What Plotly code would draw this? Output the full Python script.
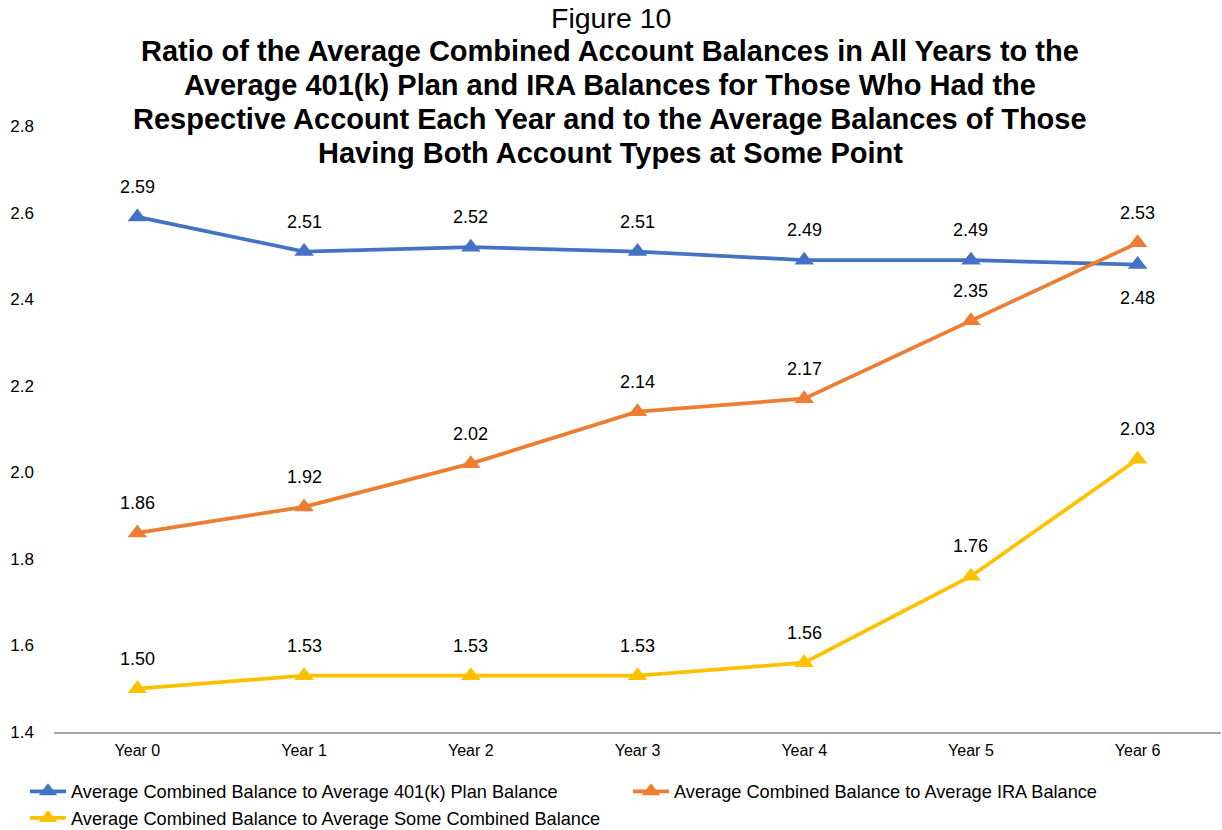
import plotly.graph_objects as go

years = ["Year 0", "Year 1", "Year 2", "Year 3", "Year 4", "Year 5", "Year 6"]
ratio_401k = [2.59, 2.51, 2.52, 2.51, 2.49, 2.49, 2.48]
ratio_ira = [1.86, 1.92, 2.02, 2.14, 2.17, 2.35, 2.53]
ratio_some = [1.50, 1.53, 1.53, 1.53, 1.56, 1.76, 2.03]

series_names = [
    "Average Combined Balance to Average 401(k) Plan Balance",
    "Average Combined Balance to Average IRA Balance",
    "Average Combined Balance to Average Some Combined Balance",
]
series_colors = ["#4472C4", "#ED7D31", "#FFC000"]
series_values = [ratio_401k, ratio_ira, ratio_some]
series_legends = ["legend", "legend2", "legend"]

title_lines = [
    "Ratio of the Average Combined Account Balances in All Years to the",
    "Average 401(k) Plan and IRA Balances for Those Who Had the",
    "Respective Account Each Year and to the Average Balances of Those",
    "Having Both Account Types at Some Point",
]

FONT = "Liberation Sans, Arial, sans-serif"
W, H = 1222, 830
M_L, M_R, M_T, M_B = 54, 1, 126, 98
PLOT_W, PLOT_H = W - M_L - M_R, H - M_T - M_B


def paper_x(px):
    return (px - M_L) / PLOT_W


def paper_y(py):
    return (H - M_B - py) / PLOT_H


fig = go.Figure()
for name, color, vals, lg in zip(series_names, series_colors, series_values, series_legends):
    fig.add_trace(go.Scatter(
        x=years, y=vals, name=name, mode="lines+markers", legend=lg,
        line=dict(color=color, width=3.75),
        marker=dict(symbol="triangle-up", size=17, color=color),
    ))

# value labels: above each point, except the 401(k) end point which sits below
annotations = []
for si, vals in enumerate(series_values):
    for xi, v in enumerate(vals):
        below = (si == 0 and xi == len(vals) - 1)
        annotations.append(dict(
            x=years[xi], y=v, xref="x", yref="y", text=f"{v:.2f}",
            showarrow=False, yshift=-33 if below else 30,
            font=dict(family=FONT, size=18, color="#000000"),
        ))

# header: "Figure 10" then the four bold title lines
annotations.append(dict(
    x=paper_x(W / 2), y=paper_y(18), xref="paper", yref="paper",
    text="Figure 10", showarrow=False, xanchor="center", yanchor="middle",
    font=dict(family=FONT, size=28.5, color="#000000"),
))
for i, line in enumerate(title_lines):
    annotations.append(dict(
        x=paper_x(610), y=paper_y(51 + 34 * i), xref="paper", yref="paper",
        text=f"<b>{line}</b>", showarrow=False,
        xanchor="center", yanchor="middle",
        font=dict(family=FONT, size=29, color="#000000"),
    ))

legend_common = dict(
    orientation="v", xref="container", yref="container",
    xanchor="left", yanchor="top", itemwidth=36,
    font=dict(family=FONT, size=18.2, color="#000000"),
    bgcolor="rgba(0,0,0,0)", borderwidth=0,
)

fig.update_layout(
    width=W, height=H,
    margin=dict(l=M_L, r=M_R, t=M_T, b=M_B, autoexpand=False),
    paper_bgcolor="white", plot_bgcolor="white",
    font=dict(family=FONT, color="#000000"),
    xaxis=dict(
        type="category", showgrid=False, zeroline=False,
        showline=True, linecolor="#A6A6A6", linewidth=1.5,
        ticks="", tickfont=dict(size=16, color="#000000"),
        ticklabelstandoff=3, range=[-0.5, 6.5], automargin=False,
    ),
    yaxis=dict(
        range=[1.4, 2.8], dtick=0.2, tickformat=".1f",
        showgrid=False, zeroline=False, showline=False, ticks="",
        tickfont=dict(size=17, color="#000000"), ticklabelstandoff=19,
        automargin=False,
    ),
    legend=dict(x=25 / W, y=1 - 773 / H, **legend_common),
    legend2=dict(x=628 / W, y=1 - 773 / H, **legend_common),
    annotations=annotations,
)

fig.write_html("out.html")
